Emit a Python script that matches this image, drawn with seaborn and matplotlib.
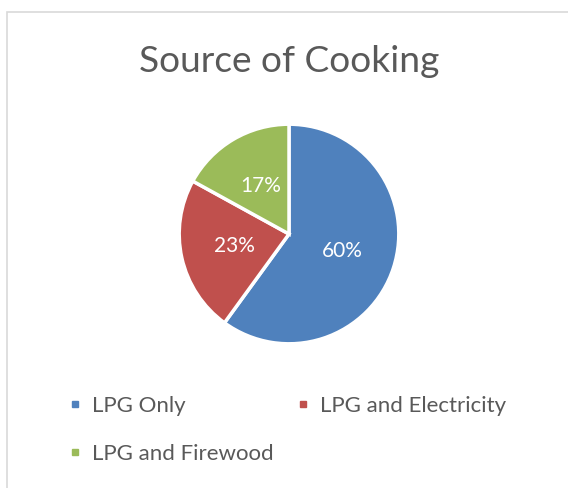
import matplotlib
matplotlib.use("Agg")
import matplotlib.pyplot as plt
import seaborn as sns
from matplotlib.lines import Line2D
from matplotlib.patches import Rectangle

# Cooking fuel shares
categories = ["LPG Only", "LPG and Electricity", "LPG and Firewood"]
shares = [60, 23, 17]
title = "Source of Cooking"

sns.set_theme(style="white")
plt.rcParams["font.family"] = ["Lato", "DejaVu Sans"]
colors = ["#4F81BD", "#C0504D", "#9BBB59"]
text_gray = "#595959"

W, H = 568, 488
fig = plt.figure(figsize=(W / 100, H / 100), dpi=100)
fig.patch.set_facecolor("white")

# chart-area border (left and top edges visible)
fig.add_artist(Rectangle((7 / W, -0.1), 1.2, 1.1 - 12.5 / H, transform=fig.transFigure,
                         fill=False, edgecolor="#D9D9D9", linewidth=1.2))

cx, cy, r = 289, H - 234, 112
ax = fig.add_axes([(cx - r) / W, (cy - r) / H, 2 * r / W, 2 * r / H])
wedges, _, autotexts = ax.pie(
    shares, colors=colors, startangle=90, counterclock=False,
    autopct=lambda p: f"{p:.0f}%", pctdistance=0.51, radius=1,
    wedgeprops=dict(edgecolor="white", linewidth=2.5),
    textprops=dict(color="white", fontsize=15),
)
ax.set_xlim(-1.02, 1.02)
ax.set_ylim(-1.02, 1.02)
ax.set_aspect("equal")
ax.axis("off")

fig.text(cx / W, 1 - 62 / H, title, ha="center", va="center",
         fontsize=26.7, color=text_gray)

# legend filled row by row: reorder so the column-wise fill reads across
order = [0, 2, 1]
handles = [Line2D([], [], marker="s", linestyle="none", markersize=5,
                  markerfacecolor=colors[i], markeredgecolor=colors[i]) for i in order]
labels = [categories[i] for i in order]
leg = fig.legend(handles, labels, ncol=2, frameon=False,
                 loc="upper left", bbox_to_anchor=(68 / W, 1 - 396 / H),
                 fontsize=16, labelcolor=text_gray, handlelength=0.6,
                 handletextpad=0.49, columnspacing=1.0, labelspacing=1.27,
                 borderaxespad=0, borderpad=0)

fig.savefig("out.png", dpi=100, facecolor="white")
